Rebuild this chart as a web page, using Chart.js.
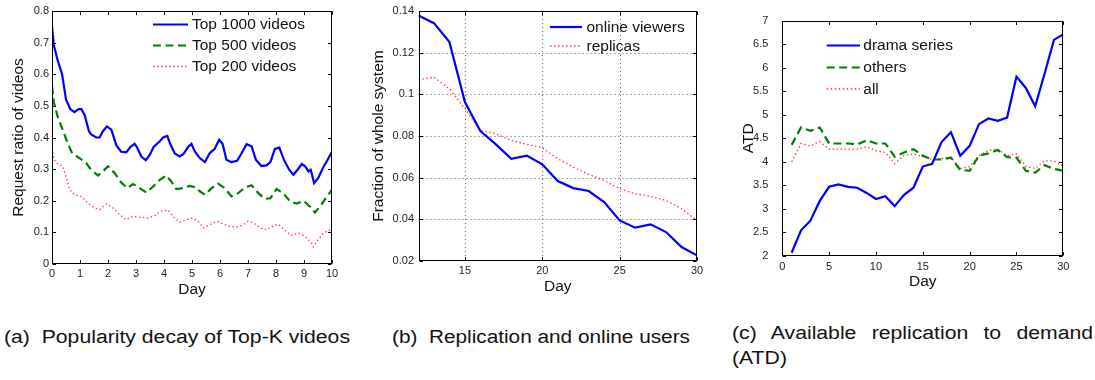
<!DOCTYPE html>
<html><head><meta charset="utf-8">
<script src="https://cdn.jsdelivr.net/npm/chart.js@4.4.1/dist/chart.umd.min.js"></script>
<style>
html,body{margin:0;padding:0;background:#fff;width:1095px;height:380px;overflow:hidden;}
.wrap{position:absolute;top:0;width:365px;height:300px;}
.cap{position:absolute;font-family:"Liberation Sans",Arial,sans-serif;font-size:18px;color:#111;white-space:pre;line-height:20px;transform-origin:0 50%;display:inline-block;}
</style></head><body>
<div class="wrap" style="left:0"><canvas id="ca" width="365" height="300"></canvas></div>
<div class="wrap" style="left:365px"><canvas id="cb" width="365" height="300"></canvas></div>
<div class="wrap" style="left:730px"><canvas id="cc" width="365" height="300"></canvas></div>
<span class="cap" id="capA" style="left:4px;top:327px">(a)  Popularity decay of Top-K videos</span>
<span class="cap" id="capB" style="left:392px;top:327px">(b)  Replication and online users</span>
<div class="cap" id="capC1" style="left:732px;top:323px;text-align:justify;text-align-last:justify;">(c) Available replication to demand</div>
<span class="cap" id="capC2" style="left:732px;top:348px">(ATD)</span>
<script>
// ---------- Data (a) ----------
const daysTop1000 = [0,0.07,0.2,0.36,0.5,0.65,0.8,0.95,1.05,1.17,1.32,1.4,1.58,1.7,1.82,1.96,2.12,2.3,2.47,2.65,2.8,2.95,3.03,3.19,3.35,3.49,3.63,3.85,3.97,4.12,4.22,4.38,4.56,4.7,4.86,4.98,5.1,5.28,5.46,5.63,5.81,5.97,6.09,6.23,6.41,6.61,6.77,6.95,7.13,7.28,7.48,7.66,7.8,7.96,8.12,8.28,8.47,8.62,8.77,8.92,9.04,9.16,9.24,9.36,9.51,9.67,9.81,10];
const top1000 = [0.75,0.69,0.645,0.60,0.52,0.49,0.48,0.49,0.49,0.47,0.42,0.41,0.40,0.40,0.42,0.435,0.425,0.375,0.355,0.353,0.37,0.38,0.37,0.34,0.328,0.345,0.37,0.388,0.40,0.405,0.38,0.35,0.34,0.348,0.37,0.38,0.356,0.335,0.322,0.35,0.364,0.393,0.38,0.33,0.322,0.326,0.35,0.379,0.372,0.33,0.31,0.312,0.322,0.364,0.368,0.33,0.298,0.282,0.298,0.316,0.309,0.293,0.298,0.256,0.272,0.303,0.324,0.356];
const daysTop500 = [0,0.07,0.2,0.38,0.56,0.72,0.98,1.22,1.4,1.64,1.82,2.0,2.24,2.47,2.69,2.89,3.13,3.37,3.61,3.85,4.08,4.26,4.44,4.68,4.92,5.1,5.28,5.46,5.7,5.93,6.17,6.41,6.65,6.89,7.13,7.37,7.6,7.8,8.02,8.26,8.5,8.74,8.98,9.21,9.39,9.57,9.78,10];
const top500 = [0.563,0.51,0.467,0.424,0.382,0.35,0.335,0.319,0.298,0.28,0.293,0.309,0.287,0.258,0.24,0.253,0.24,0.226,0.245,0.266,0.28,0.261,0.237,0.24,0.247,0.243,0.23,0.219,0.24,0.254,0.24,0.214,0.224,0.242,0.249,0.224,0.206,0.208,0.237,0.224,0.198,0.191,0.2,0.182,0.163,0.182,0.208,0.235];
const daysTop200 = [0,0.07,0.2,0.38,0.5,0.63,0.8,1.04,1.28,1.52,1.7,1.94,2.18,2.42,2.65,2.89,3.13,3.43,3.67,3.91,4.15,4.38,4.56,4.8,5.01,5.22,5.42,5.63,5.9,6.11,6.35,6.61,6.83,7.0,7.21,7.42,7.66,7.88,8.08,8.32,8.56,8.8,9.04,9.27,9.33,9.51,9.69,9.93,10];
const top200 = [0.366,0.33,0.317,0.309,0.277,0.235,0.219,0.214,0.193,0.177,0.172,0.19,0.177,0.156,0.14,0.151,0.148,0.145,0.153,0.168,0.17,0.145,0.132,0.14,0.145,0.135,0.114,0.124,0.135,0.127,0.119,0.117,0.124,0.135,0.13,0.114,0.108,0.119,0.126,0.106,0.09,0.098,0.087,0.066,0.054,0.077,0.098,0.108,0.11];
const ticksAX = [0,1,2,3,4,5,6,7,8,9,10];
const ticksAY = [0,0.1,0.2,0.3,0.4,0.5,0.6,0.7,0.8];

// ---------- Data (b) ----------
const daysB = [12,13,14,15,16,17,18,19,20,21,22,23,24,25,26,27,28,29,30];
const onlineViewers = [0.1379,0.1342,0.1251,0.0963,0.0824,0.076,0.0691,0.0706,0.0664,0.0584,0.055,0.0536,0.0483,0.0395,0.036,0.0376,0.0339,0.0267,0.0227];
const replicas = [0.107,0.1083,0.1027,0.0931,0.0827,0.0811,0.0779,0.076,0.0744,0.0691,0.0651,0.0616,0.0587,0.0547,0.0523,0.051,0.0491,0.0451,0.0395];
const ticksBX = [15,20,25,30];
const ticksBY = [0.02,0.04,0.06,0.08,0.1,0.12,0.14];

// ---------- Data (c) ----------
const daysC = [1,2,3,4,5,6,7,8,9,10,11,12,13,14,15,16,17,18,19,20,21,22,23,24,25,26,27,28,29,30];
const dramaSeries = [2.07,2.545,2.75,3.17,3.47,3.52,3.47,3.45,3.34,3.21,3.27,3.06,3.30,3.45,3.90,3.96,4.42,4.63,4.13,4.34,4.80,4.92,4.87,4.94,5.81,5.57,5.18,5.87,6.59,6.71];
const others = [4.36,4.73,4.66,4.73,4.39,4.39,4.39,4.37,4.46,4.39,4.39,4.11,4.20,4.27,4.13,4.05,4.05,4.09,3.83,3.81,4.13,4.18,4.25,4.10,4.09,3.81,3.77,3.93,3.85,3.81];
const allVideos = [4.0,4.39,4.34,4.43,4.27,4.27,4.27,4.27,4.32,4.24,4.20,3.96,4.14,4.17,4.11,4.05,4.07,4.10,3.86,3.90,4.13,4.24,4.27,4.13,4.17,3.90,3.86,4.02,4.02,3.91];
const ticksCX = [0,5,10,15,20,25,30];
const ticksCY = [2,2.5,3,3.5,4,4.5,5,5.5,6,6.5,7];

const FONT = '"Liberation Sans", Arial, Helvetica, sans-serif';
Chart.defaults.font.family = FONT;
Chart.defaults.color = '#222';

const zip = (xs, ys) => xs.map((x, i) => ({x, y: ys[i]}));
const BLUE = {borderColor:'#0000ff', borderWidth:2.2, borderDash:[]};
const GREEN = {borderColor:'#008000', borderWidth:2.2, borderDash:[8,4.5]};
const RED = {borderColor:'#ff3b3b', borderWidth:1.3, borderDash:[1.5,2.5]};

const framePlugin = {
  id: 'frame',
  beforeDatasetsDraw(chart, args, o) {
    if (!o.grid) return;
    const {ctx, chartArea: a, scales: {x, y}} = chart;
    ctx.save();
    ctx.strokeStyle = '#555'; ctx.lineWidth = 1; ctx.setLineDash([1,3]);
    ctx.beginPath();
    x.ticks.forEach(t => { const p = Math.round(x.getPixelForValue(t.value)) + 0.5; if (p > a.left + 1 && p < a.right - 1) { ctx.moveTo(p, a.top); ctx.lineTo(p, a.bottom); } });
    y.ticks.forEach(t => { const p = Math.round(y.getPixelForValue(t.value)) + 0.5; if (p > a.top + 1 && p < a.bottom - 1) { ctx.moveTo(a.left, p); ctx.lineTo(a.right, p); } });
    ctx.stroke();
    ctx.restore();
  },
  afterDatasetsDraw(chart, args, o) {
    const {ctx, chartArea: a, scales: {x, y}} = chart;
    ctx.save();
    const L = Math.round(a.left) + 0.5, R = Math.round(a.right) - 0.5, T = Math.round(a.top) + 0.5, B = Math.round(a.bottom) - 0.5;
    ctx.strokeStyle = '#000'; ctx.lineWidth = 1; ctx.setLineDash([]);
    ctx.beginPath();
    const tl = 3.5;
    x.ticks.forEach(t => { const p = Math.round(x.getPixelForValue(t.value)) + 0.5; ctx.moveTo(p, B); ctx.lineTo(p, B - tl); ctx.moveTo(p, T); ctx.lineTo(p, T + tl); });
    y.ticks.forEach(t => { const p = Math.round(y.getPixelForValue(t.value)) + 0.5; ctx.moveTo(L, p); ctx.lineTo(L + tl, p); ctx.moveTo(R, p); ctx.lineTo(R - tl, p); });
    ctx.stroke();
    ctx.strokeRect(L, T, R - L, B - T);
    // legend
    const lg = o.legend;
    chart.data.datasets.forEach((ds, i) => {
      const yy = lg.ys[i];
      ctx.strokeStyle = ds.borderColor; ctx.lineWidth = ds.borderWidth; ctx.setLineDash(ds.borderDash || []);
      ctx.beginPath(); ctx.moveTo(lg.x1, yy); ctx.lineTo(lg.x2, yy); ctx.stroke();
      ctx.setLineDash([]);
      ctx.fillStyle = '#111'; ctx.font = '15.5px ' + FONT; ctx.textBaseline = 'middle'; ctx.textAlign = 'left';
      ctx.fillText(ds.label, lg.tx, yy + 0.5);
    });
    ctx.restore();
  }
};

function makeChart(id, cfg) {
  const fixTicks = arr => scale => { scale.ticks = arr.map(v => ({value: v})); };
  return new Chart(document.getElementById(id), {
    type: 'line',
    data: {datasets: cfg.datasets.map(d => Object.assign({pointRadius:0, tension:0, fill:false}, d))},
    options: {
      responsive: false, animation: false, events: [],
      layout: {padding: {top: cfg.area.top, right: 365 - cfg.area.right, left: 0, bottom: 0}},
      plugins: {legend: {display:false}, tooltip: {enabled:false}, frame: {legend: cfg.legend, grid: !!cfg.grid}},
      scales: {
        x: {
          type: 'linear', min: cfg.xmin, max: cfg.xmax,
          grid: {display:false, drawTicks:false}, border: {display:false},
          afterBuildTicks: fixTicks(cfg.xticks),
          afterFit: s => { s.height = 300 - cfg.area.bottom; },
          ticks: {font: {size: 11}, padding: cfg.xpad, color:'#222', maxRotation:0, autoSkip:false, callback: v => String(v)},
          title: {display:true, text:'Day', color:'#111', font:{size:15.5}, padding:{top:0, bottom: cfg.xtitlePad}}
        },
        y: {
          type: 'linear', min: cfg.ymin, max: cfg.ymax,
          grid: {display:false, drawTicks:false}, border: {display:false},
          afterBuildTicks: fixTicks(cfg.yticks),
          afterFit: s => { s.width = cfg.area.left; },
          ticks: {font: {size: 11}, padding: cfg.ypad, color:'#222', autoSkip:false, callback: v => String(v)},
          title: {display:true, text: cfg.ytitle, color:'#111', font:{size:15.5}, padding:{top: cfg.ytitlePad, bottom:0}}
        }
      }
    },
    plugins: [framePlugin]
  });
}

makeChart('ca', {
  datasets: [
    Object.assign({label:'Top 1000 videos', data: zip(daysTop1000, top1000)}, BLUE),
    Object.assign({label:'Top 500 videos', data: zip(daysTop500, top500)}, GREEN),
    Object.assign({label:'Top 200 videos', data: zip(daysTop200, top200)}, RED)
  ],
  area: {left:52, right:332, top:11, bottom:264},
  xmin:0, xmax:10, ymin:0, ymax:0.8, xticks: ticksAX, yticks: ticksAY,
  xpad:3.4, ypad:3, xtitlePad:0.7, ytitlePad:9.7, ytitle:'Request ratio of videos',
  legend: {x1:153, x2:188, tx:192, ys:[24.5, 45.5, 66.5]}
});

makeChart('cb', {
  datasets: [
    Object.assign({label:'online viewers', data: zip(daysB, onlineViewers)}, BLUE),
    Object.assign({label:'replicas', data: zip(daysB, replicas)}, RED)
  ],
  grid: true,
  area: {left:53.5, right:332, top:11, bottom:261},
  xmin:12, xmax:30, ymin:0.02, ymax:0.14, xticks: ticksBX, yticks: ticksBY,
  xpad:3.4, ypad:4.5, xtitlePad:4, ytitlePad:4.9, ytitle:'Fraction of whole system',
  legend: {x1:185, x2:217, tx:221.5, ys:[27, 46]}
});

makeChart('cc', {
  datasets: [
    Object.assign({label:'drama series', data: zip(daysC, dramaSeries)}, BLUE),
    Object.assign({label:'others', data: zip(daysC, others)}, GREEN),
    Object.assign({label:'all', data: zip(daysC, allVideos)}, RED)
  ],
  area: {left:52.3, right:333.3, top:11.7, bottom:256},
  xmin:0, xmax:30, ymin:2, ymax:7, xticks: ticksCX, yticks: ticksCY,
  xpad:4.7, ypad:14, xtitlePad:9, ytitlePad:9.7, ytitle:'ATD',
  legend: {x1:96.7, x2:130, tx:133.3, ys:[45.5, 67.5, 89]}
});

// captions: stretch horizontally to match reference widths
function stretch(id, target) {
  const el = document.getElementById(id);
  const w = el.getBoundingClientRect().width;
  const s = target / w;
  el.style.transform = 'scaleX(' + s + ')';
  return s;
}
const sA = stretch('capA', 346);
stretch('capB', 298);
const c1 = document.getElementById('capC1');
c1.style.width = (361 / sA) + 'px';
c1.style.transform = 'scaleX(' + sA + ')';
document.getElementById('capC2').style.transform = 'scaleX(' + sA + ')';
</script>
</body></html>
